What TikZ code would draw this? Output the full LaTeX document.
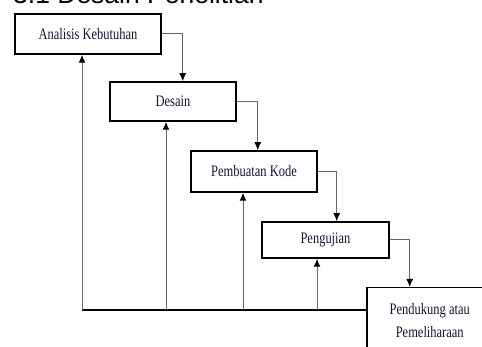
\documentclass[tikz,border=0pt]{standalone}
\usepackage{fontspec}
\setmainfont{Liberation Serif}
\newfontfamily\boxfont[FakeStretch=0.78]{Liberation Serif}
\newfontfamily\headfont{Liberation Sans}
\usetikzlibrary{arrows.meta,calc}
\definecolor{textink}{rgb}{0.08,0.08,0.2}
\definecolor{linegrey}{gray}{0.4}
\tikzset{
  stage/.style={draw=black, line width=1.5pt, rectangle, inner sep=0pt,
    font=\boxfont\fontsize{16}{23}\selectfont, text=textink, align=center},
  flow/.style={draw=linegrey, line width=1pt, -{Latex[black,length=8pt,width=7pt]}},
  backbone/.style={draw=black, line width=1.3pt}
}
\begin{document}
\begin{tikzpicture}[x=1pt, y=-1pt]
  \useasboundingbox (0,0) rectangle (482,347);
  \clip (0,0) rectangle (482,347);
  % heading, cut off by the page edge
  \node[anchor=base west, inner sep=0pt, font=\headfont\fontsize{26.5}{30}\selectfont] (title) at (13,4) {3.1 Desain Penelitian};
  % stages
  \node[stage, minimum width=146pt, minimum height=40pt] (analisis) at (88,34) {Analisis Kebutuhan};
  \node[stage, minimum width=126pt, minimum height=39pt] (desain) at (173,101.5) {Desain};
  \node[stage, minimum width=126pt, minimum height=41pt] (kode) at (254,171.5) {Pembuatan Kode};
  \node[stage, minimum width=127pt, minimum height=36pt] (uji) at (325.5,240) {Pengujian};
  \node[stage, minimum width=126pt, minimum height=66pt, anchor=north west] (pelihara) at (366,287) {Pendukung atau\\Pemeliharaan};
  % forward arrows
  \coordinate (k1) at ($(analisis.east)+(21,0)$);
  \coordinate (k2) at ($(desain.east)+(21,0)$);
  \coordinate (k3) at ($(kode.east)+(19,0)$);
  \coordinate (k4) at ($(uji.east)+(20,0)$);
  \draw[flow] (analisis.east) -- (k1) -- (k1 |- desain.north);
  \draw[flow] (desain.east) -- (k2) -- (k2 |- kode.north);
  \draw[flow] (kode.east) -- (k3) -- (k3 |- uji.north);
  \draw[flow] (uji.east) -- (k4) -- (k4 |- pelihara.north);
  % feedback lines
  \coordinate (f1) at (82,310);
  \coordinate (f2) at (166,310);
  \coordinate (f3) at (243,310);
  \coordinate (f4) at (317,310);
  \draw[backbone] (f1) -- (f1 -| pelihara.west);
  \draw[flow] (f1) -- (f1 |- analisis.south);
  \draw[flow] (f2) -- (f2 |- desain.south);
  \draw[flow] (f3) -- (f3 |- kode.south);
  \draw[flow] (f4) -- (f4 |- uji.south);
\end{tikzpicture}
\end{document}
